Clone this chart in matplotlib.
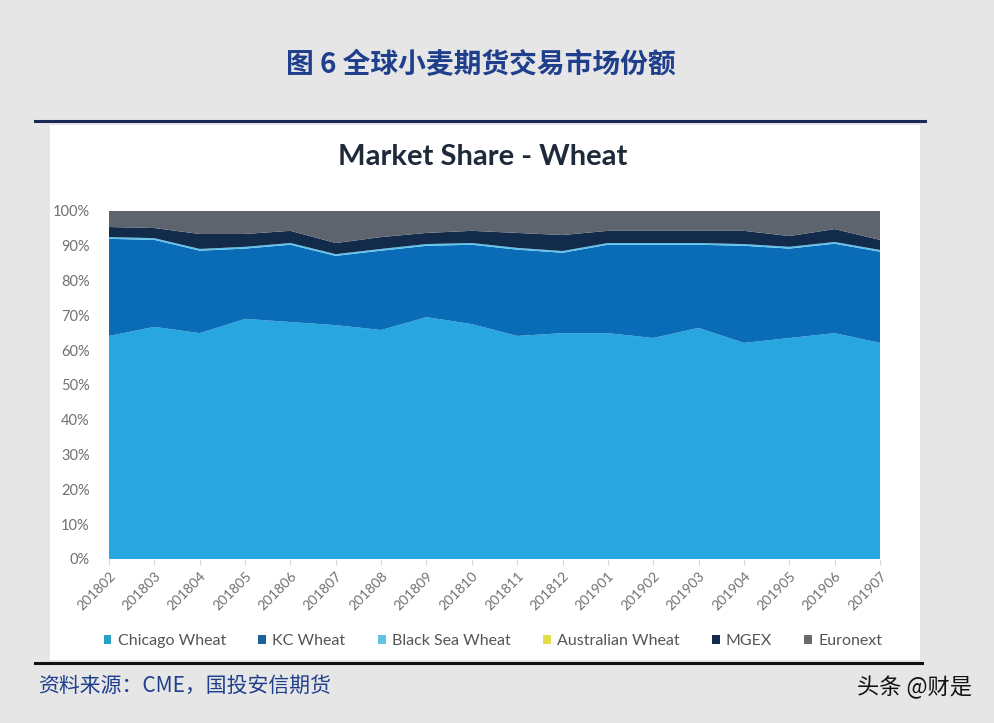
import numpy as np
import matplotlib.pyplot as plt
from matplotlib.patches import Rectangle
from matplotlib.lines import Line2D

months = ["201802", "201803", "201804", "201805", "201806", "201807",
          "201808", "201809", "201810", "201811", "201812", "201901",
          "201902", "201903", "201904", "201905", "201906", "201907"]

# 各交易所份额 (%)
chicago = [64.1, 66.7, 64.9, 69.0, 68.1, 67.2, 65.8, 69.5, 67.5,
           64.1, 64.9, 64.9, 63.5, 66.4, 62.1, 63.5, 64.9, 62.1]
kc = [27.9, 25.0, 23.7, 20.2, 22.2, 19.9, 22.8, 20.5, 22.8,
      24.8, 23.1, 25.4, 26.8, 23.9, 27.9, 25.7, 25.7, 26.2]
black_sea = [0.5, 0.5, 0.5, 0.5, 0.5, 0.5, 0.5, 0.5, 0.5,
             0.5, 0.5, 0.5, 0.5, 0.5, 0.5, 0.5, 0.5, 0.5]
australian = [0.0, 0.0, 0.0, 0.0, 0.0, 0.0, 0.0, 0.0, 0.0,
              0.0, 0.0, 0.0, 0.0, 0.0, 0.0, 0.0, 0.0, 0.0]
mgex = [2.9, 2.9, 4.3, 3.7, 3.5, 3.2, 3.4, 3.2, 3.5,
        4.3, 4.6, 3.5, 3.5, 3.5, 3.8, 3.1, 3.7, 2.9]
euronext = [4.6, 4.9, 6.6, 6.6, 5.7, 9.2, 7.5, 6.3, 5.7,
            6.3, 6.9, 5.7, 5.7, 5.7, 5.7, 7.2, 5.2, 8.3]

labels = ["Chicago Wheat", "KC Wheat", "Black Sea Wheat",
          "Australian Wheat", "MGEX", "Euronext"]
colors = ["#27a6df", "#0a6cb7", "#5cc3ec", "#e3dd4a", "#132b4b", "#5e646d"]
legend_colors = ["#2a9fc9", "#1f5f9a", "#62c2e2", "#e3dd4a", "#132b4b", "#6a6a6a"]


def main():
    plt.rcParams["font.family"] = ["Lato", "Noto Sans CJK SC", "DejaVu Sans"]

    fig = plt.figure(figsize=(9.94, 7.23), dpi=100)
    fig.patch.set_facecolor("#e6e6e6")

    # 白色底板
    fig.patches.append(Rectangle((50 / 994, 1 - 660 / 723), (920 - 50) / 994,
                                 (660 - 125) / 723, transform=fig.transFigure,
                                 facecolor="white", edgecolor="none", zorder=-5))
    # 上下分隔线
    fig.add_artist(Line2D([35 / 994, 925 / 994], [1 - 121 / 723] * 2,
                          transform=fig.transFigure, color="#1b2a55", lw=2.2,
                          zorder=-4))
    fig.add_artist(Line2D([35 / 994, 922 / 994], [1 - 663 / 723] * 2,
                          transform=fig.transFigure, color="#111111", lw=2.2,
                          zorder=-4))

    fig.text(481 / 994, 1 - 65 / 723, "图 6 全球小麦期货交易市场份额",
             ha="center", va="center", fontsize=20, fontweight="bold",
             color="#1f3f8c", family=["Noto Sans CJK SC", "DejaVu Sans"])
    fig.text(483 / 994, 1 - 157 / 723, "Market Share - Wheat",
             ha="center", va="center", fontsize=21, fontweight="bold",
             color="#1e2a3a")

    ax = fig.add_axes([109 / 994, 1 - 559 / 723, (880 - 109) / 994,
                       (559 - 211) / 723])
    ax.set_facecolor("none")
    x = np.arange(len(months))
    ax.stackplot(x, chicago, kc, black_sea, australian, mgex, euronext,
                 colors=colors, labels=labels, lw=0)
    ax.set_xlim(0, len(months) - 1)
    ax.set_ylim(0, 100)
    for s in ax.spines.values():
        s.set_visible(False)

    ax.set_yticks(np.arange(0, 101, 10))
    ax.set_yticklabels([f"{v}%" for v in range(0, 101, 10)],
                       fontsize=10.5, color="#707070")
    ax.tick_params(axis="y", length=0, pad=14)
    ax.set_xticks(x)
    ax.set_xticklabels(months, rotation=45, ha="right",
                       rotation_mode="anchor", fontsize=10, color="#707070")
    ax.tick_params(axis="x", length=4, color="#d8d8d8", pad=4)

    handles = [Rectangle((0, 0), 1, 1, facecolor=c) for c in legend_colors]
    fig.legend(handles, labels, loc="center", ncol=6,
               bbox_to_anchor=(493 / 994, 1 - 641 / 723), frameon=False,
               fontsize=11.5, labelcolor="#555555", handlelength=0.5,
               handleheight=0.5, handletextpad=0.4, columnspacing=2.0)

    fig.text(38 / 994, 1 - 686 / 723, "资料来源：CME，国投安信期货",
             ha="left", va="center", fontsize=15, style="italic",
             color="#1f3f8c", family=["Noto Sans CJK SC", "DejaVu Sans"])
    fig.text(972 / 994, 1 - 688 / 723, "头条 @财是",
             ha="right", va="center", fontsize=16, color="#111111",
             family=["Noto Sans CJK SC", "DejaVu Sans"])

    fig.savefig("out.png", dpi=100, facecolor=fig.get_facecolor())


if __name__ == "__main__":
    main()
